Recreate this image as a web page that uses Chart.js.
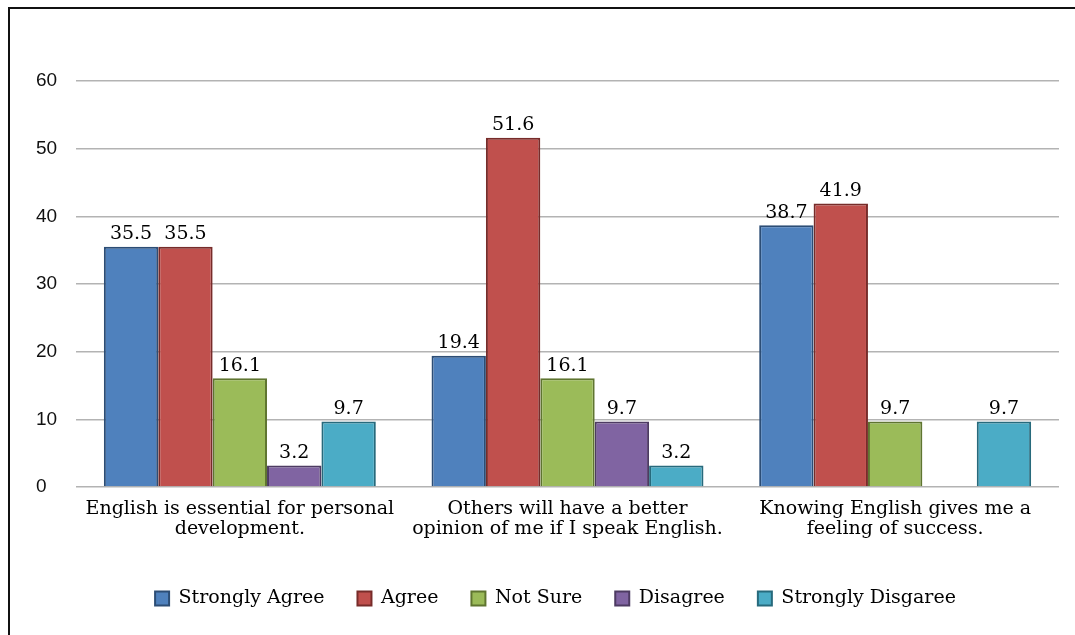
<!DOCTYPE html>
<html>
<head>
<meta charset="utf-8">
<script src="https://cdn.jsdelivr.net/npm/chart.js@4.4.1/dist/chart.umd.min.js"></script>
<style>
    html, body { margin: 0; padding: 0; background: #fff; overflow: hidden; }
    #wrap { position: relative; width: 1075px; height: 635px; }
    #frame {
        position: absolute; left: 8px; top: 7px; width: 1200px; height: 800px;
        border-left: 2px solid #111; border-top: 2px solid #111;
    }
    #surveyChart { position: absolute; left: 0; top: 0; }
</style>
</head>
<body>
<div id="wrap">
    <div id="frame"></div>
    <canvas id="surveyChart" width="1075" height="635"></canvas>
</div>
<script>
// Survey statements (x categories)
const statements = [
    ['English is essential for personal', 'development.'],
    ['Others will have a better', 'opinion of me if I speak English.'],
    ['Knowing English gives me a', 'feeling of success.']
];

// Percentages per response
const stronglyAgree = [35.5, 19.4, 38.7];
const agree = [35.5, 51.6, 41.9];
const notSure = [16.1, 16.1, 9.7];
const disagree = [3.2, 9.7, null];
const stronglyDisagree = [9.7, 3.2, 9.7];

const yTicks = [0, 10, 20, 30, 40, 50, 60];

const SERIF = '"DejaVu Serif", "Liberation Serif", serif';

const series = [
    { label: 'Strongly Agree', data: stronglyAgree, fill: '#4f81bd', edge: '#2c4d75' },
    { label: 'Agree', data: agree, fill: '#c0504d', edge: '#772c2a' },
    { label: 'Not Sure', data: notSure, fill: '#9bbb59', edge: '#5f7530' },
    { label: 'Disagree', data: disagree, fill: '#8064a2', edge: '#4d3b62' },
    { label: 'Strongly Disgaree', data: stronglyDisagree, fill: '#4bacc6', edge: '#276a7c' }
];

// value labels above each bar
const barValueLabels = {
    id: 'barValueLabels',
    afterDatasetsDraw(chart) {
        const ctx = chart.ctx;
        ctx.save();
        ctx.font = '19px ' + SERIF;
        ctx.fillStyle = '#000';
        ctx.textAlign = 'center';
        ctx.textBaseline = 'bottom';
        chart.data.datasets.forEach((ds, i) => {
            const meta = chart.getDatasetMeta(i);
            meta.data.forEach((bar, j) => {
                const v = ds.data[j];
                if (v === null || v === undefined) return;
                ctx.fillText(v.toFixed(1), bar.x, bar.y - 3);
            });
        });
        ctx.restore();
    }
};

// wide gaps between legend items, but keep the legend block short;
// nudge it a little to the right once placed
const legendPlacement = {
    id: 'legendPlacement',
    beforeInit(chart) {
        const origFit = chart.legend.fit;
        chart.legend.fit = function () {
            origFit.bind(chart.legend)();
            this.height = 64;
        };
    },
    afterLayout(chart) {
        chart.legend.left += 8;
        chart.legend.right += 8;
    }
};

new Chart(document.getElementById('surveyChart'), {
    type: 'bar',
    data: {
        labels: statements,
        datasets: series.map(s => ({
            label: s.label,
            data: s.data,
            backgroundColor: s.fill,
            borderColor: s.edge,
            borderWidth: 2,
            barPercentage: 1,
            categoryPercentage: 0.83
        }))
    },
    options: {
        responsive: false,
        animation: false,
        devicePixelRatio: 1,
        layout: { padding: { top: 81, left: 36, right: 16, bottom: 15 } },
        plugins: {
            tooltip: { enabled: false },
            legend: {
                position: 'bottom',
                labels: {
                    color: '#000',
                    font: { family: SERIF, size: 19 },
                    boxWidth: 14,
                    boxHeight: 14,
                    padding: 33
                }
            }
        },
        scales: {
            x: {
                grid: { display: false, drawTicks: false },
                border: { display: false },
                afterFit(axis) { axis.height += 5; },
                ticks: {
                    color: '#000',
                    font: { family: SERIF, size: 19, lineHeight: 1.05 },
                    maxRotation: 0,
                    autoSkip: false,
                    padding: 12
                }
            },
            y: {
                min: 0,
                max: 60,
                afterBuildTicks(axis) {
                    axis.ticks = yTicks.map(v => ({ value: v }));
                },
                afterFit(axis) { axis.width = 40; },
                grid: { color: '#b3b3b3', lineWidth: 1.6, drawTicks: false },
                border: { display: false },
                ticks: {
                    color: '#111',
                    font: { family: '"Liberation Sans", Arial, sans-serif', size: 19 },
                    crossAlign: 'far',
                    padding: 12
                }
            }
        }
    },
    plugins: [barValueLabels, legendPlacement]
});
</script>
</body>
</html>
